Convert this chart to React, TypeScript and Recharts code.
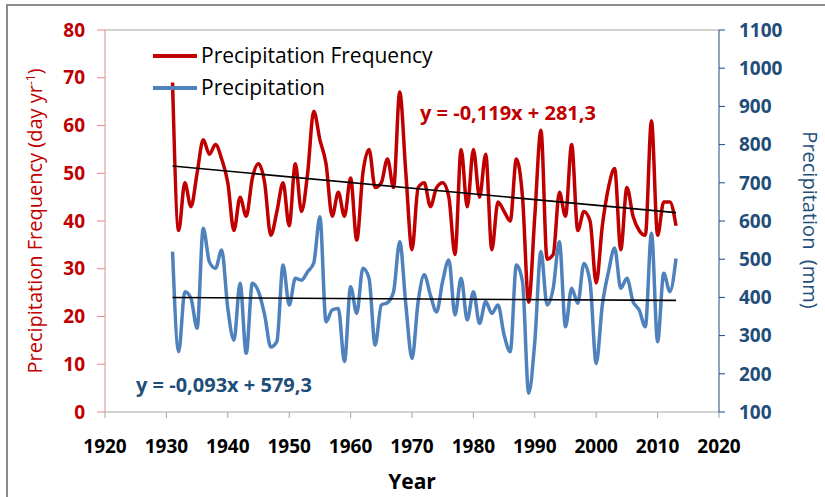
import { ComposedChart, Line, XAxis, YAxis, ReferenceLine } from "recharts";

const FONT = "'Open Sans', sans-serif";
const RED = "#c00000";
const BLUE = "#4f81bd";
const NAVY = "#1f4e79";

// annual series, 1931-2013
const firstYear = 1931;
const frequency = [
  69, 38, 48, 43, 50, 57, 54, 56, 53, 48,
  38, 45, 41, 49, 52, 48, 37, 42, 48, 39,
  52, 42, 50, 63, 57, 52, 41, 46, 41, 49,
  36, 50, 55, 47, 48, 53, 47, 67, 50, 34,
  47, 48, 43, 47, 48, 45, 33, 55, 43, 55,
  45, 54, 34, 44, 42, 40, 53, 45, 23, 41,
  59, 32, 33, 46, 41, 56, 38, 42, 40, 27,
  39, 47, 51, 34, 47, 41, 38, 37, 61, 37,
  44, 44, 39,
];
const precipitation = [
  520, 258, 415, 398, 319, 581, 493, 476, 524, 371,
  288, 437, 254, 437, 415, 354, 270, 285, 485, 380,
  450, 445, 467, 490, 611, 336, 367, 371, 232, 428,
  358, 476, 450, 275, 380, 386, 415, 546, 380, 240,
  389, 459, 406, 362, 443, 498, 354, 450, 341, 415,
  332, 389, 358, 380, 302, 258, 485, 441, 149, 284,
  520, 380, 424, 546, 323, 424, 385, 489, 440, 227,
  380, 467, 529, 424, 450, 389, 367, 323, 568, 284,
  463, 415, 502,
];
const years = frequency.map((_, i) => firstYear + i);
const lastYear = years[years.length - 1];

const xTicks = [1920, 1930, 1940, 1950, 1960, 1970, 1980, 1990, 2000, 2010, 2020];
const freqTicks = [0, 10, 20, 30, 40, 50, 60, 70, 80];
const precipTicks = [100, 200, 300, 400, 500, 600, 700, 800, 900, 1000, 1100];

// linear trends as printed on the chart
const freqTrend = { slope: -0.119, intercept: 281.3, label: "y = -0,119x + 281,3" };
const precipTrend = { slope: -0.093, intercept: 579.3, label: "y = -0,093x + 579,3" };

const data = years.map((year, i) => ({
  year,
  freq: frequency[i],
  precip: precipitation[i],
}));

const trendData = (t: { slope: number; intercept: number }) =>
  [firstYear, lastYear].map((year) => ({ year, value: t.slope * year + t.intercept }));

const abs = (style: React.CSSProperties): React.CSSProperties => ({
  position: "absolute",
  whiteSpace: "nowrap",
  lineHeight: 1,
  fontFamily: FONT,
  ...style,
});

export default function App() {
  return (
    <div
      style={{
        position: "absolute",
        left: 0,
        top: 0,
        width: 825,
        height: 497,
        overflow: "hidden",
        background: "#fff",
        fontFamily: FONT,
      }}
    >
      <div
        style={{
          position: "absolute",
          left: 6,
          top: 4,
          width: 900,
          height: 600,
          border: "2px solid #8c8c8c",
        }}
      />
      <div style={{ position: "absolute", left: 0, top: 0 }}>
        <ComposedChart
          width={825}
          height={497}
          data={data}
          margin={{ top: 30, right: 0, bottom: 0, left: 0 }}
        >
          <XAxis
            dataKey="year"
            type="number"
            domain={[1920, 2020]}
            ticks={xTicks}
            height={85}
            stroke="#a6a6a6"
            tickSize={6}
            tickMargin={22}
            tick={{ fill: "#000", fontSize: 19, fontWeight: 700 }}
          />
          <YAxis
            yAxisId="freq"
            domain={[0, 80]}
            ticks={freqTicks}
            width={105}
            stroke="#e08a8a"
            tickSize={8}
            tickMargin={12}
            tick={{ fill: RED, fontSize: 19, fontWeight: 700 }}
          />
          <YAxis
            yAxisId="precip"
            orientation="right"
            domain={[100, 1100]}
            ticks={precipTicks}
            width={106}
            stroke="#1f497d"
            tickSize={6}
            tickMargin={14}
            tick={{ fill: NAVY, fontSize: 19, fontWeight: 700 }}
          />
          <ReferenceLine yAxisId="freq" y={80} stroke="#a6a6a6" strokeWidth={1} />
          <Line
            yAxisId="freq"
            dataKey="freq"
            type="monotone"
            stroke={RED}
            strokeWidth={3.5}
            dot={false}
            activeDot={false}
            isAnimationActive={false}
          />
          <Line
            yAxisId="precip"
            dataKey="precip"
            type="monotone"
            stroke={BLUE}
            strokeWidth={3.5}
            dot={false}
            activeDot={false}
            isAnimationActive={false}
          />
          <Line
            yAxisId="freq"
            data={trendData(freqTrend)}
            dataKey="value"
            type="linear"
            stroke="#000"
            strokeWidth={1.6}
            dot={false}
            activeDot={false}
            isAnimationActive={false}
          />
          <Line
            yAxisId="precip"
            data={trendData(precipTrend)}
            dataKey="value"
            type="linear"
            stroke="#000"
            strokeWidth={1.6}
            dot={false}
            activeDot={false}
            isAnimationActive={false}
          />
        </ComposedChart>
      </div>

      {/* legend */}
      <div style={abs({ left: 153, top: 54, width: 44, height: 3.5, background: RED })} />
      <div style={abs({ left: 201, top: 55, transform: "translateY(-50%)", fontSize: 21, color: "#000" })}>
        Precipitation Frequency
      </div>
      <div style={abs({ left: 153, top: 86, width: 44, height: 3.5, background: BLUE })} />
      <div style={abs({ left: 201, top: 87, transform: "translateY(-50%)", fontSize: 21, color: "#000" })}>
        Precipitation
      </div>

      {/* trend equations */}
      <div style={abs({ left: 420, top: 113, transform: "translateY(-50%)", fontSize: 20, fontWeight: 700, color: RED })}>
        {freqTrend.label}
      </div>
      <div style={abs({ left: 136, top: 385, transform: "translateY(-50%)", fontSize: 20, fontWeight: 700, color: NAVY })}>
        {precipTrend.label}
      </div>

      {/* axis titles */}
      <div
        style={abs({
          left: 35,
          top: 221,
          transform: "translate(-50%, -50%) rotate(-90deg)",
          fontSize: 20,
          fontWeight: 500,
          color: RED,
        })}
      >
        Precipitation Frequency (day yr<sup style={{ fontSize: 12 }}>-1</sup>)
      </div>
      <div
        style={abs({
          left: 810,
          top: 220,
          transform: "translate(-50%, -50%) rotate(90deg)",
          fontSize: 20,
          color: NAVY,
        })}
      >
        Precipitation&nbsp; (mm)
      </div>
      <div
        style={abs({
          left: 412,
          top: 481,
          transform: "translate(-50%, -50%)",
          fontSize: 21,
          fontWeight: 700,
          color: "#000",
        })}
      >
        Year
      </div>
    </div>
  );
}
